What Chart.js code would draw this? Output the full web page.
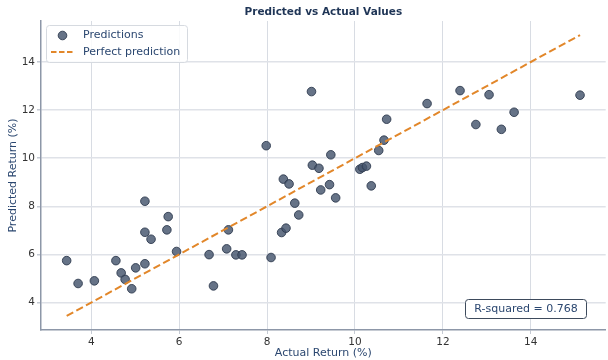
<!DOCTYPE html>
<html>
<head>
<meta charset="utf-8">
<script src="https://cdn.jsdelivr.net/npm/chart.js@4/dist/chart.umd.min.js"></script>
<style>
  html, body { margin: 0; padding: 0; background: #ffffff; overflow: hidden; width: 608px; height: 360px; }
  #wrap { position: relative; width: 611px; height: 360px; }
</style>
</head>
<body>
<div id="wrap"><canvas id="chart"></canvas></div>
<script>
// Model predictions against realised returns (%)
const actualReturn = [
  3.44, 3.70, 4.07, 4.56, 4.68, 4.77, 4.92, 5.01, 5.22, 5.22,
  5.22, 5.36, 5.72, 5.75, 5.94, 6.68, 6.78, 7.08, 7.12, 7.29,
  7.43, 8.09, 8.33, 8.43, 8.63, 8.72, 7.98, 8.37, 8.50, 9.03,
  9.18, 9.45, 9.42, 9.22, 9.56, 9.01, 10.11, 10.17, 10.26, 10.54,
  10.66, 10.72, 11.64, 12.39, 12.75, 13.05, 13.33, 13.62, 15.12, 10.37
];
const predictedReturn = [
  5.74, 4.79, 4.90, 5.74, 5.23, 4.96, 4.57, 5.44, 5.61, 6.92,
  8.21, 6.63, 7.02, 7.57, 6.12, 5.99, 4.69, 6.23, 7.02, 5.98,
  5.98, 5.87, 6.91, 7.09, 8.13, 7.64, 10.52, 9.13, 8.93, 9.71,
  9.58, 10.14, 8.90, 8.68, 8.35, 12.77, 9.54, 9.61, 9.67, 10.32,
  10.75, 11.62, 12.27, 12.81, 11.40, 12.64, 11.20, 11.91, 12.62, 8.85
];
const tickValues = [4, 6, 8, 10, 12, 14];
const axisRange = [2.856, 15.704];
const seriesNames = ['Predictions', 'Perfect prediction'];
const chartTitle = 'Predicted vs Actual Values';
const xAxisTitle = 'Actual Return (%)';
const yAxisTitle = 'Predicted Return (%)';
const rSquaredText = 'R-squared = 0.768';

const FONT = '"DejaVu Sans", "Liberation Sans", sans-serif';
const NAVY = '#2b4770';
const POINT_FILL = 'rgba(68, 84, 108, 0.82)';
const POINT_EDGE = 'rgba(48, 60, 80, 0.9)';
const LINE_COLOR = '#e2872a';
const DASH = [7.5, 3.5];

const points = actualReturn.map((a, i) => ({ x: a, y: predictedReturn[i] }));
const lo = Math.min(...actualReturn, ...predictedReturn);
const hi = Math.max(...actualReturn, ...predictedReturn);
const identity = [{ x: lo, y: lo }, { x: hi, y: hi }];

function roundRect(ctx, x, y, w, h, r) {
  ctx.beginPath();
  ctx.moveTo(x + r, y);
  ctx.lineTo(x + w - r, y);
  ctx.arcTo(x + w, y, x + w, y + r, r);
  ctx.lineTo(x + w, y + h - r);
  ctx.arcTo(x + w, y + h, x + w - r, y + h, r);
  ctx.lineTo(x + r, y + h);
  ctx.arcTo(x, y + h, x, y + h - r, r);
  ctx.lineTo(x, y + r);
  ctx.arcTo(x, y, x + r, y, r);
  ctx.closePath();
}

// Title, axis titles, legend and the R-squared annotation
const decorations = {
  id: 'decorations',
  afterDraw(chart) {
    const ctx = chart.ctx;
    const area = chart.chartArea;
    const cx = (area.left + area.right) / 2;
    ctx.save();

    ctx.fillStyle = '#1f3556';
    ctx.font = 'bold 10.5px ' + FONT;
    ctx.textAlign = 'center';
    ctx.textBaseline = 'middle';
    ctx.fillText(chartTitle, cx, 12);

    ctx.fillStyle = NAVY;
    ctx.font = '11px ' + FONT;
    ctx.fillText(xAxisTitle, cx, 353);

    ctx.save();
    ctx.translate(13.5, (area.top + area.bottom) / 2);
    ctx.rotate(-Math.PI / 2);
    ctx.fillText(yAxisTitle, 0, 0);
    ctx.restore();

    // legend
    roundRect(ctx, 46.5, 25.5, 141, 37, 3);
    ctx.fillStyle = 'rgba(255,255,255,0.85)';
    ctx.fill();
    ctx.strokeStyle = '#d6dae0';
    ctx.lineWidth = 1;
    ctx.stroke();

    ctx.beginPath();
    ctx.arc(62.5, 35.5, 4.3, 0, Math.PI * 2);
    ctx.fillStyle = POINT_FILL;
    ctx.fill();
    ctx.strokeStyle = POINT_EDGE;
    ctx.stroke();

    ctx.beginPath();
    ctx.setLineDash([5.5, 2.5]);
    ctx.moveTo(51, 52);
    ctx.lineTo(73, 52);
    ctx.strokeStyle = LINE_COLOR;
    ctx.lineWidth = 2;
    ctx.stroke();
    ctx.setLineDash([]);

    ctx.fillStyle = NAVY;
    ctx.font = '11px ' + FONT;
    ctx.textAlign = 'left';
    ctx.fillText(seriesNames[0], 83, 35.5);
    ctx.fillText(seriesNames[1], 83, 52);

    // R-squared box
    roundRect(ctx, 465.5, 299.5, 121, 19, 3);
    ctx.fillStyle = '#ffffff';
    ctx.fill();
    ctx.strokeStyle = '#3d4a5c';
    ctx.lineWidth = 1;
    ctx.stroke();
    ctx.fillStyle = NAVY;
    ctx.textAlign = 'center';
    ctx.fillText(rSquaredText, 526, 309.5);

    ctx.restore();
  }
};

const fixedTicks = (scale) => { scale.ticks = tickValues.map(v => ({ value: v })); };

new Chart(document.getElementById('chart'), {
  data: {
    datasets: [
      {
        type: 'line',
        label: seriesNames[1],
        data: identity,
        borderColor: LINE_COLOR,
        borderWidth: 2,
        borderDash: DASH,
        pointRadius: 0,
        fill: false,
        order: 0
      },
      {
        type: 'scatter',
        label: seriesNames[0],
        data: points,
        backgroundColor: POINT_FILL,
        borderColor: POINT_EDGE,
        borderWidth: 1,
        pointRadius: 4.3,
        order: 1
      }
    ]
  },
  options: {
    responsive: true,
    maintainAspectRatio: false,
    devicePixelRatio: 1,
    animation: false,
    layout: { padding: { top: 21, left: 0, right: 0, bottom: 0 } },
    plugins: {
      legend: { display: false },
      title: { display: false },
      tooltip: { enabled: false }
    },
    scales: {
      x: {
        type: 'linear',
        min: axisRange[0],
        max: axisRange[1],
        afterBuildTicks: fixedTicks,
        afterFit: (s) => { s.height = 30; },
        grid: { color: '#d8dce3', lineWidth: 1, tickLength: 4, tickColor: '#c5cad3' },
        border: { color: '#8d97a8', width: 1.5 },
        ticks: { color: '#333333', font: { family: FONT, size: 10.5 }, padding: 2, maxRotation: 0 }
      },
      y: {
        type: 'linear',
        min: axisRange[0],
        max: axisRange[1],
        afterBuildTicks: fixedTicks,
        afterFit: (s) => { s.width = 41; },
        grid: { color: '#dfe2e8', lineWidth: 1.5, tickLength: 4, tickColor: '#c5cad3' },
        border: { color: '#8d97a8', width: 1.5 },
        ticks: { color: '#333333', font: { family: FONT, size: 10.5 }, padding: 2 }
      }
    }
  },
  plugins: [decorations]
});
</script>
</body>
</html>
